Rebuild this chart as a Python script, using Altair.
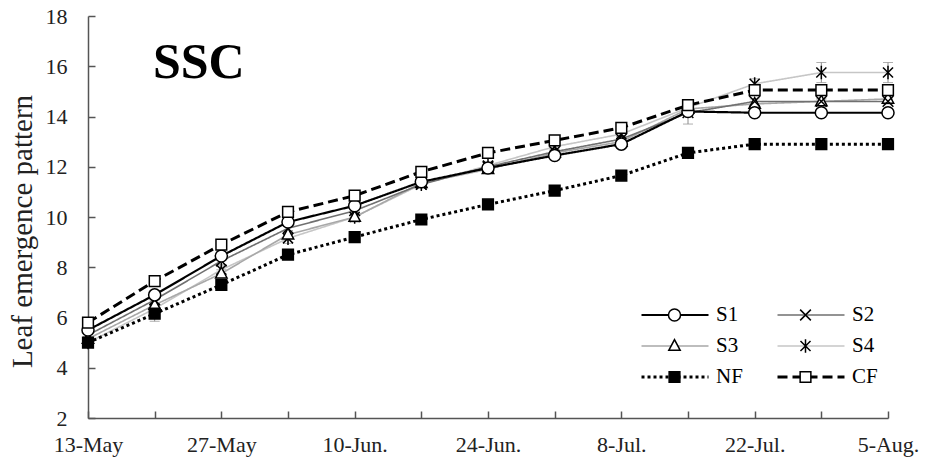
import altair as alt
import pandas as pd

# ---------------- data ----------------
dates = ["13-May", "20-May", "27-May", "3-Jun.", "10-Jun.", "17-Jun.", "24-Jun.",
         "1-Jul.", "8-Jul.", "15-Jul.", "22-Jul.", "29-Jul.", "5-Aug."]
series = ["S1", "S2", "S3", "S4", "NF", "CF"]
y_ticks = [2, 4, 6, 8, 10, 12, 14, 16, 18]

s1 = [5.5, 6.9, 8.45, 9.8, 10.45, 11.4, 11.95, 12.45, 12.9, 14.2, 14.15, 14.15, 14.15]
s2 = [5.3, 6.7, 8.25, 9.55, 10.25, 11.3, 12.0, 12.6, 13.1, 14.15, 14.6, 14.6, 14.6]
s3 = [5.15, 6.5, 7.75, 9.3, 10.0, 11.35, 11.9, 12.55, 13.0, 14.3, 14.5, 14.6, 14.7]
s4 = [5.0, 6.35, 7.9, 9.15, 10.0, 11.3, 12.05, 12.8, 13.3, 14.35, 15.3, 15.75, 15.75]
nf = [5.0, 6.15, 7.3, 8.5, 9.2, 9.9, 10.5, 11.05, 11.65, 12.55, 12.9, 12.9, 12.9]
cf = [5.8, 7.45, 8.9, 10.2, 10.85, 11.8, 12.55, 13.05, 13.55, 14.45, 15.05, 15.05, 15.05]

err_s1 = [0.1, 0.15, 0.1, 0.1, 0.1, 0.1, 0.1, 0.1, 0.1, 0.1, 0.05, 0.05, 0.05]
err_s2 = [0.1, 0.15, 0.15, 0.1, 0.1, 0.1, 0.1, 0.1, 0.1, 0.45, 0.1, 0.1, 0.1]
err_s3 = [0.1, 0.2, 0.15, 0.15, 0.1, 0.1, 0.1, 0.1, 0.1, 0.15, 0.1, 0.1, 0.1]
err_s4 = [0.15, 0.15, 0.15, 0.2, 0.2, 0.1, 0.1, 0.1, 0.1, 0.15, 0.2, 0.4, 0.4]
err_nf = [0.1, 0.3, 0.15, 0.1, 0.1, 0.1, 0.1, 0.1, 0.1, 0.1, 0.05, 0.05, 0.05]
err_cf = [0.1, 0.1, 0.1, 0.1, 0.1, 0.1, 0.1, 0.1, 0.1, 0.1, 0.1, 0.1, 0.1]

shown_labels = dates[::2]

# ---------------- styles ----------------
line_colors = ["#000000", "#707070", "#a8a8a8", "#c6c6c6", "#000000", "#000000"]
line_dashes = [[1, 0], [1, 0], [1, 0], [1, 0], [3, 3], [10, 5]]
line_widths = [2.2, 1.6, 1.6, 1.6, 3, 3]
marker_paths = [
    "M0.18,0 A0.18,0.18 0 1,1 -0.18,0 A0.18,0.18 0 1,1 0.18,0 Z",
    "M-0.16,-0.16 L0.16,0.16 M-0.16,0.16 L0.16,-0.16",
    "M0,-0.19 L0.17,0.13 L-0.17,0.13 Z",
    "M-0.15,-0.15 L0.15,0.15 M-0.15,0.15 L0.15,-0.15 M0,-0.2 L0,0.2",
    "M-0.16,-0.16 L0.16,-0.16 L0.16,0.16 L-0.16,0.16 Z",
    "M-0.16,-0.16 L0.16,-0.16 L0.16,0.16 L-0.16,0.16 Z",
]
marker_fills = ["white", "white", "white", "white", "black", "white"]

values = {"S1": s1, "S2": s2, "S3": s3, "S4": s4, "NF": nf, "CF": cf}
errors = {"S1": err_s1, "S2": err_s2, "S3": err_s3, "S4": err_s4, "NF": err_nf, "CF": err_cf}

rows = []
for s in ["S4", "S3", "S2", "S1", "NF", "CF"]:
    for i, (d, v, e) in enumerate(zip(dates, values[s], errors[s])):
        rows.append({"date": d, "idx": i, "series": s, "value": v, "lo": v - e, "hi": v + e})
df = pd.DataFrame(rows)

FONT = "Liberation Serif"
W, H = 800, 402
SYM = 4489

xscale = alt.Scale(type="point", domain=dates, padding=0)
yscale = alt.Scale(domain=[2, 18], nice=False, zero=False)

x_main = alt.X("date:N", scale=xscale, axis=alt.Axis(
    orient="bottom", tickSize=0, labelPadding=16, labelAngle=0, labelOverlap=False,
    labelExpr="indexof(" + str(shown_labels).replace("'", '"') + ", datum.value) >= 0 ? datum.value : ''",
    labelFont=FONT, labelFontSize=22, labelColor="#222222", title=None))
y_main = alt.Y("value:Q", scale=yscale, axis=alt.Axis(
    orient="left", values=y_ticks, tickSize=0, labelPadding=21, labelFlush=False,
    labelFont=FONT, labelFontSize=22, labelColor="#222222",
    title="Leaf emergence pattern", titleFont=FONT, titleFontSize=29,
    titleFontWeight="normal", titleColor="#222222", titleX=-66, titleY=215,
    titleAngle=270, titleAlign="center", titleBaseline="middle"))

leg_common = dict(orient="none", legendX=552, legendY=288, columns=2, direction="horizontal",
                  rowPadding=9, clipHeight=22, symbolSize=SYM,
                  labelFont=FONT, labelFontSize=21, title=None, padding=0)
LA = alt.Legend(symbolType="stroke", labelColor="black", labelOffset=6,
                columnPadding=33, **leg_common)
LB = alt.Legend(symbolStrokeWidth=1.5, symbolOpacity=1, labelExpr="''", labelOffset=0,
                columnPadding=62, values=series, **leg_common)

err_rule = alt.Chart(df).mark_rule(color="#8c8c8c", strokeWidth=1).encode(
    x=alt.X("date:N", scale=xscale, axis=alt.Axis(
        orient="top", offset=-H, tickSize=7, labels=False, domain=False, title=None)),
    y=alt.Y("lo:Q", scale=yscale, axis=alt.Axis(
        orient="right", offset=-W, values=y_ticks, tickSize=7, labels=False,
        domain=False, title=None)),
    y2="hi:Q",
)
cap_lo = alt.Chart(df).mark_tick(orient="horizontal", size=10, thickness=1, color="#8c8c8c").encode(
    x=alt.X("date:N", scale=xscale, axis=None),
    y=alt.Y("lo:Q", scale=yscale, axis=None),
)
cap_hi = alt.Chart(df).mark_tick(orient="horizontal", size=10, thickness=1, color="#8c8c8c").encode(
    x=alt.X("date:N", scale=xscale, axis=None),
    y=alt.Y("hi:Q", scale=yscale, axis=None),
)

lines = alt.Chart(df).mark_line().encode(
    x=x_main,
    y=y_main,
    order=alt.Order("idx:Q"),
    stroke=alt.Stroke("series:N", scale=alt.Scale(domain=series, range=line_colors), legend=LA),
    strokeDash=alt.StrokeDash("series:N", scale=alt.Scale(domain=series, range=line_dashes), legend=LA),
    strokeWidth=alt.StrokeWidth("series:N", scale=alt.Scale(type="ordinal", domain=series, range=line_widths), legend=LA),
)

points = alt.Chart(df).mark_point(size=SYM, stroke="black", strokeWidth=1.5, opacity=1,
                                  fillOpacity=1, strokeOpacity=1).encode(
    x=alt.X("date:N", scale=xscale, axis=None),
    y=alt.Y("value:Q", scale=yscale, axis=None),
    shape=alt.Shape("series:N", scale=alt.Scale(domain=series + ["_"], range=marker_paths + ["M0,0 L0,0"]), legend=LB),
    fill=alt.Fill("series:N", scale=alt.Scale(domain=series + ["_"], range=marker_fills + ["white"]), legend=LB),
)

chart = alt.layer(err_rule, cap_lo, cap_hi, lines, points).properties(
    width=W, height=H,
    padding={"left": 88, "top": 16, "right": 38, "bottom": 45},
    autosize=alt.AutoSizeParams(type="none"),
    title=alt.TitleParams("SSC", font=FONT, fontSize=50, fontWeight="bold", color="black",
                          anchor="start", frame="group", dx=65, dy=66, offset=-57,
                          baseline="alphabetic"),
).configure_view(stroke=None).configure_axis(
    domainColor="#555555", tickColor="#555555", domainWidth=1.5, tickWidth=1.5, grid=False
)

chart.save("out.html", embed_options={"renderer": "svg", "actions": False})
